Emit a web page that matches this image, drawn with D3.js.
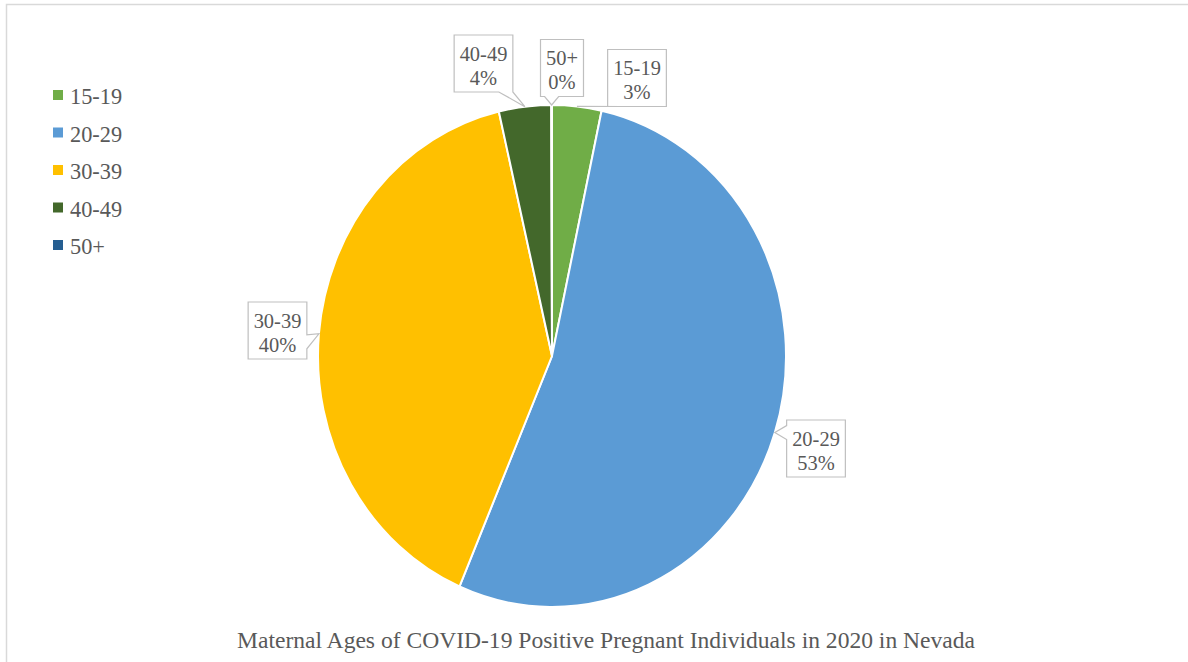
<!DOCTYPE html>
<html>
<head>
<meta charset="utf-8">
<script src="https://cdn.jsdelivr.net/npm/d3@7"></script>
<style>
    body { margin: 0; background: #fff; }
</style>
</head>
<body>
<svg id="chart" width="1188" height="662"></svg>
<script>
const categories = ["15-19", "20-29", "30-39", "40-49", "50+"];
const shares = [3.4, 53.1, 39.9, 3.6, 0.05];
const colors = ["#70AD47", "#5B9BD5", "#FFC000", "#43682B", "#255E91"];
const title = "Maternal Ages of COVID-19 Positive Pregnant Individuals in 2020 in Nevada";

// callout box centres and the side the pointer leaves from
const callouts = {
    "15-19": {cx: 637, cy: 78, side: "bottom"},
    "20-29": {cx: 816, cy: 448.5, side: "left"},
    "30-39": {cx: 277.5, cy: 330.5, side: "right"},
    "40-49": {cx: 483.5, cy: 63.5, side: "bottom"},
    "50+":   {cx: 562, cy: 68, side: "bottom"}
};

const W = 1188, H = 662;
const cx = 552, cy = 356, rx = 234, ry = 251;
const XS = 0.93; // horizontal squeeze of the original picture
const FONT = "'Liberation Serif', 'Times New Roman', serif";

const svg = d3.select("#chart");

// outer frame
svg.append("rect")
    .attr("x", 6.5).attr("y", 4.5)
    .attr("width", W + 20).attr("height", H + 20)
    .attr("fill", "none")
    .attr("stroke", "#D9D9D9")
    .attr("stroke-width", 1.5);

const data = categories.map((c, i) => ({cat: c, value: shares[i], color: colors[i]}));
const total = d3.sum(shares);
const pct = d3.format(".0%");

const pie = d3.pie().sort(null).value(d => d.value);
const arcs = pie(data);
const arc = d3.arc().innerRadius(0).outerRadius(rx);

const pieG = svg.append("g")
    .attr("transform", `translate(${cx},${cy}) scale(1,${ry / rx})`);

pieG.selectAll("path")
    .data(arcs)
    .join("path")
        .attr("d", arc)
        .attr("fill", d => d.data.color)
        .attr("stroke", "#fff")
        .attr("stroke-width", 2)
        .attr("vector-effect", "non-scaling-stroke");

function squeezedText(g, x, y, str, size, anchor) {
    return g.append("text")
        .attr("transform", `translate(${x},${y}) scale(${XS},1)`)
        .attr("text-anchor", anchor)
        .attr("font-family", FONT)
        .attr("font-size", size)
        .attr("fill", "#595959")
        .text(str);
}

// data labels with wedge callouts
const labelG = svg.append("g");
arcs.forEach(a => {
    const c = callouts[a.data.cat];
    const mid = (a.startAngle + a.endAngle) / 2;
    const tx = cx + rx * Math.sin(mid);
    const ty = cy - ry * Math.cos(mid);

    const g = labelG.append("g");
    const path = g.append("path");
    const t1 = squeezedText(g, c.cx, c.cy - 3, a.data.cat, 22, "middle");
    const t2 = squeezedText(g, c.cx, c.cy + 21, pct(a.data.value / total), 22, "middle");

    const tw = Math.max(t1.node().getComputedTextLength(), t2.node().getComputedTextLength()) * XS;
    const bw = tw + 11, bh = 57;
    const x0 = c.cx - bw / 2, x1 = c.cx + bw / 2;
    const y0 = c.cy - bh / 2, y1 = c.cy + bh / 2;
    const hw = 7;
    let pts;
    if (c.side === "bottom") {
        const m = Math.max(x0 + hw, Math.min(x1 - hw, tx));
        pts = [[x0, y0], [x1, y0], [x1, y1], [m + hw, y1], [tx, ty], [m - hw, y1], [x0, y1]];
    } else if (c.side === "left") {
        const m = Math.max(y0 + hw, Math.min(y1 - hw, ty));
        pts = [[x0, y0], [x1, y0], [x1, y1], [x0, y1], [x0, m + hw], [tx, ty], [x0, m - hw]];
    } else {
        const m = Math.max(y0 + hw, Math.min(y1 - hw, ty + 8));
        pts = [[x0, y0], [x1, y0], [x1, m - hw], [tx, ty], [x1, m + hw], [x1, y1], [x0, y1]];
    }
    path.attr("d", d3.line()(pts) + "Z")
        .attr("fill", "#fff")
        .attr("stroke", "#BFBFBF")
        .attr("stroke-width", 1.2);
});

// legend
const legendY = d3.scalePoint().domain(categories).range([95, 245]);
const legend = svg.append("g");
data.forEach(d => {
    const y = legendY(d.cat);
    legend.append("rect")
        .attr("x", 53).attr("y", y - 5)
        .attr("width", 10).attr("height", 10)
        .attr("fill", d.color);
    squeezedText(legend, 70, y + 9, d.cat, 24, "start");
});

// title
svg.append("text")
    .attr("x", 237).attr("y", 648)
    .attr("textLength", 738)
    .attr("lengthAdjust", "spacingAndGlyphs")
    .attr("font-family", FONT)
    .attr("font-size", 24)
    .attr("fill", "#595959")
    .text(title);
</script>
</body>
</html>
